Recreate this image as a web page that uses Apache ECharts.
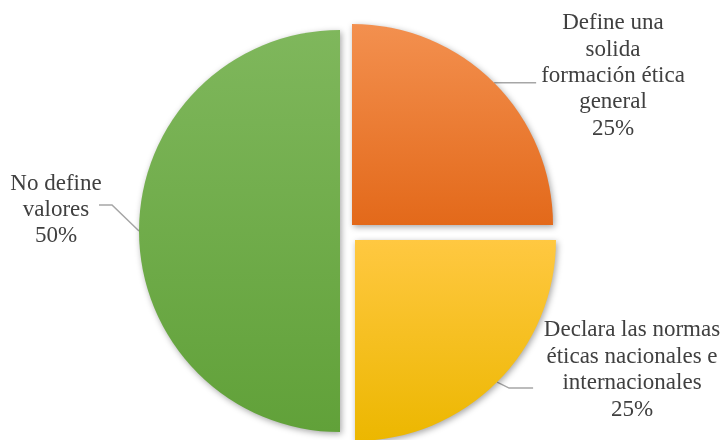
<!DOCTYPE html>
<html>
<head>
<meta charset="utf-8">
<style>
  html, body { margin: 0; padding: 0; background: #ffffff; }
  #chart { width: 723px; height: 440px; }
</style>
<script src="https://cdn.jsdelivr.net/npm/echarts@6/dist/echarts.min.js"></script>
</head>
<body>
<div id="chart"></div>
<script>
// Survey shares, clockwise from 12 o'clock
const categories = [
  'Define una solida formación ética general',
  'Declara las normas éticas nacionales e internacionales',
  'No define valores'
];
const labelNames = [
  'Define una\nsolida\nformación ética\ngeneral',
  'Declara las normas\néticas nacionales e\ninternacionales',
  'No define\nvalores'
];
const values = [25, 25, 50];

// Styling / layout
const gradients = [
  ['#F3904F', '#E3691A'],
  ['#FFC841', '#ECB700'],
  ['#7FB75C', '#61A139']
];
const pieCenter = [346, 231];
const radius = 201;
const explode = [8.5, 12.7, 6];        // per-slice pull-out distance
// label block centre and leader-line shape (relative to slice edge point)
const labelCenters = [[613, 76], [632, 370], [56, 210]];
const leaderBends = [
  [[21, 0], [42, 0]],
  [[12, 6], [36, 6]],
  [[-27, -26], [-40, -26]]
];

const total = values.reduce((a, b) => a + b, 0);
const midAngles = [];
let acc = 0;
values.forEach(v => {
  const start = 90 - acc / total * 360;
  const end = 90 - (acc + v) / total * 360;
  midAngles.push((start + end) / 2 * Math.PI / 180);
  acc += v;
});

const centers = values.map((v, i) => [
  pieCenter[0] + explode[i] * Math.cos(midAngles[i]),
  pieCenter[1] - explode[i] * Math.sin(midAngles[i])
]);

function grad(c) {
  return new echarts.graphic.LinearGradient(0, 0, 0, 1, [
    { offset: 0, color: c[0] },
    { offset: 1, color: c[1] }
  ]);
}

const series = values.map((_, si) => ({
  type: 'pie',
  center: centers[si],
  radius: radius,
  startAngle: 90,
  clockwise: true,
  silent: true,
  emphasis: { disabled: true },
  labelLayout: function (params) {
    const i = params.dataIndex;
    if (i !== si) return {};
    const c = centers[i];
    const p0 = [c[0] + radius * Math.cos(midAngles[i]), c[1] - radius * Math.sin(midAngles[i])];
    const b = leaderBends[i];
    return {
      x: labelCenters[i][0],
      y: labelCenters[i][1],
      align: 'center',
      verticalAlign: 'middle',
      labelLinePoints: [p0, [p0[0] + b[0][0], p0[1] + b[0][1]], [p0[0] + b[1][0], p0[1] + b[1][1]]]
    };
  },
  data: values.map((v, j) => ({
    name: categories[j],
    value: v,
    itemStyle: j === si ? {
      color: grad(gradients[j]),
      shadowBlur: 6,
      shadowColor: 'rgba(0,0,0,0.35)',
      shadowOffsetX: 1.5,
      shadowOffsetY: 2
    } : { color: 'rgba(0,0,0,0)' },
    label: {
      show: j === si,
      formatter: () => labelNames[j] + '\n' + v + '%',
      fontFamily: 'Liberation Serif',
      fontSize: 23,
      lineHeight: 26.4,
      color: '#404040',
      overflow: 'none',
      width: 260
    },
    labelLine: {
      show: j === si,
      lineStyle: { color: '#A6A6A6', width: 1.5 }
    }
  }))
}));

const chart = echarts.init(document.getElementById('chart'), null, { renderer: 'canvas' });
chart.setOption({
  animation: false,
  backgroundColor: '#ffffff',
  series: series
});
</script>
</body>
</html>
